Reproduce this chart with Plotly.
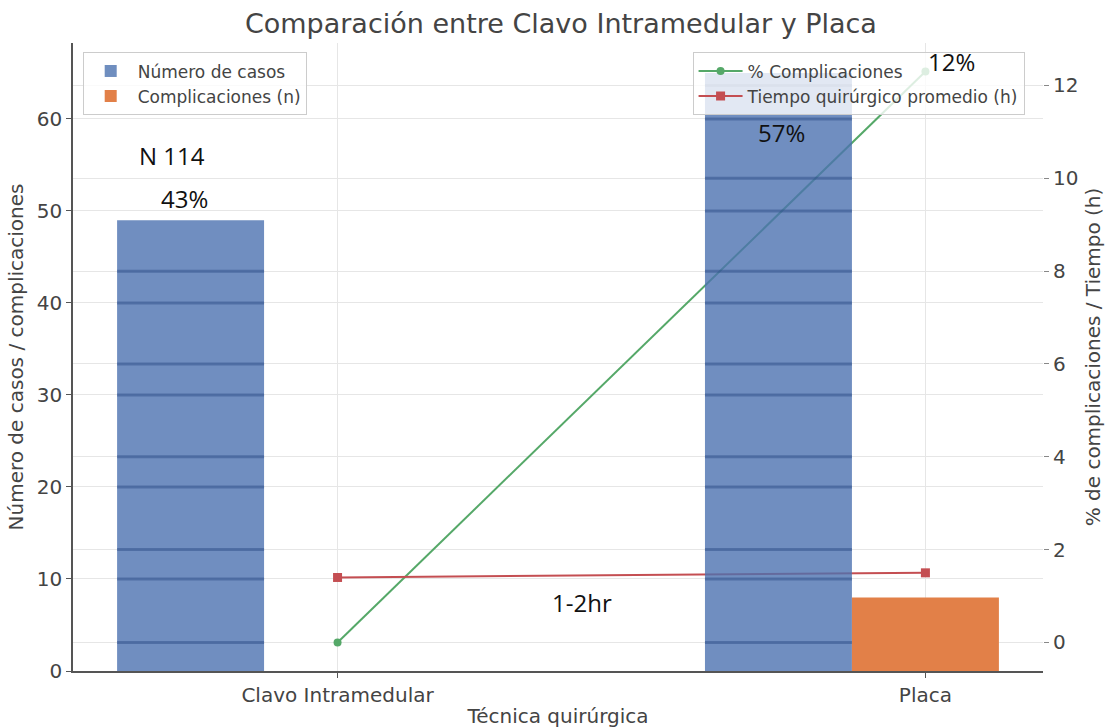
import plotly.graph_objects as go

# Data
categories = ["Clavo Intramedular", "Placa"]
casos = [49, 65]
complicaciones_n = [0, 8]
pct_complicaciones = [0, 12.3]
tiempo_h = [1.4, 1.5]
left_ticks = [0, 10, 20, 30, 40, 50, 60]
right_ticks = [0, 2, 4, 6, 8, 10, 12]

BLUE = "#4c72b0"
ORANGE = "rgb(226,128,72)"
GREEN = "#55a868"
RED = "#c44e52"
FONT = "DejaVu Sans"
TXT = "#444"

xpos = list(range(len(categories)))
bar_w = 0.25

# Axis ranges with 5% padding around the data
left_range = [0, max(casos) * 1.05]
r_vals = pct_complicaciones + tiempo_h
r_lo, r_hi = min(r_vals), max(r_vals)
r_pad = 0.05 * (r_hi - r_lo)
right_range = [r_lo - r_pad, r_hi + r_pad]
x_lo = min(xpos) - bar_w * 1.5 - 0.075
x_hi = max(xpos) + bar_w * 0.5 + 0.075

fig = go.Figure()

# Lines on the right-hand scale (drawn first, underneath the bars)
fig.add_trace(go.Scatter(
    x=xpos, y=pct_complicaciones, name="% Complicaciones",
    mode="lines+markers", yaxis="y", legend="legend2",
    line=dict(color=GREEN, width=2), marker=dict(color=GREEN, size=8, symbol="circle"),
))
fig.add_trace(go.Scatter(
    x=xpos, y=tiempo_h, name="Tiempo quirúrgico promedio (h)",
    mode="lines+markers", yaxis="y", legend="legend2",
    line=dict(color=RED, width=2), marker=dict(color=RED, size=9, symbol="square"),
))

# Bars on the left-hand scale
fig.add_trace(go.Bar(
    x=[p - bar_w for p in xpos], y=casos, width=bar_w, name="Número de casos",
    yaxis="y2", legend="legend", marker=dict(color=BLUE, line=dict(width=0)), opacity=0.8,
))
fig.add_trace(go.Bar(
    x=xpos, y=complicaciones_n, width=bar_w, name="Complicaciones (n)",
    yaxis="y2", legend="legend", marker=dict(color=ORANGE, line=dict(width=0)),
))

# Darker grid bands showing through the case bars
def right_to_left(v):
    f = (v - right_range[0]) / (right_range[1] - right_range[0])
    return left_range[0] + f * (left_range[1] - left_range[0])

band = dict(color="rgba(40,70,130,0.45)", width=3)
shapes = []
for p, h in zip(xpos, casos):
    x0, x1 = p - 1.5 * bar_w, p - 0.5 * bar_w
    for t in left_ticks[1:]:
        if t < h:
            shapes.append(dict(type="line", xref="x", yref="y2", x0=x0, x1=x1, y0=t, y1=t,
                               line=band, layer="above"))
    for t in right_ticks:
        if right_to_left(t) < h:
            shapes.append(dict(type="line", xref="x", yref="y", x0=x0, x1=x1, y0=t, y1=t,
                               line=band, layer="above"))

total = sum(casos)
ann_font = dict(family="Open Sans", size=24, color="#111")
annotations = [
    dict(x=xpos[0] - 0.282, y=56, xref="x", yref="y2", text=f"N {total}", showarrow=False, font=ann_font),
    dict(x=xpos[0] - 0.26, y=51.3, xref="x", yref="y2",
         text=f"{round(100 * casos[0] / total)}%", showarrow=False, font=ann_font),
    dict(x=xpos[1] - 0.245, y=58.5, xref="x", yref="y2",
         text=f"{round(100 * casos[1] / total)}%", showarrow=False, font=ann_font),
    dict(x=xpos[1] + 0.045, y=66.2, xref="x", yref="y2",
         text=f"{round(pct_complicaciones[1])}%", showarrow=False, font=ann_font),
    dict(x=0.416, y=7.4, xref="x", yref="y2", text="1-2hr", showarrow=False, font=ann_font),
]

grid = "rgb(230,230,230)"
fig.update_layout(
    width=1105, height=728,
    margin=dict(l=73, r=62, t=43, b=57),
    paper_bgcolor="white", plot_bgcolor="white",
    barmode="overlay",
    font=dict(family=FONT, color=TXT),
    title=dict(text="Comparación entre Clavo Intramedular y Placa", x=0.503, xref="paper",
               y=0.968, yanchor="middle", font=dict(family=FONT, size=27, color=TXT)),
    xaxis=dict(range=[x_lo, x_hi], tickvals=xpos, ticktext=categories, automargin=False,
               showgrid=True, gridcolor=grid, gridwidth=1, zeroline=False,
               showline=True, linecolor="#555", linewidth=1.5,
               ticks="outside", ticklen=5, tickcolor="#555",
               tickfont=dict(size=20, color=TXT),
               title=dict(text="Técnica quirúrgica", font=dict(size=20, color=TXT), standoff=14)),
    yaxis=dict(range=right_range, side="right", tickvals=right_ticks, automargin=False,
               showgrid=True, gridcolor=grid, gridwidth=1, zeroline=False, showline=False,
               ticks="outside", ticklen=5, tickcolor="#888",
               tickfont=dict(size=20, color=TXT),
               title=dict(text="% de complicaciones / Tiempo (h)", font=dict(size=20, color=TXT), standoff=10)),
    yaxis2=dict(range=left_range, side="left", overlaying="y", anchor="x", tickvals=left_ticks,
                automargin=False,
                showgrid=True, gridcolor=grid, gridwidth=1, zeroline=False,
                showline=True, linecolor="#555", linewidth=1.5,
                ticks="outside", ticklen=5, tickcolor="#555",
                tickfont=dict(size=20, color=TXT),
                title=dict(text="Número de casos / complicaciones", font=dict(size=20, color=TXT), standoff=8)),
    legend=dict(x=0.01, y=0.985, xanchor="left", yanchor="top", itemwidth=44,
                bgcolor="rgba(255,255,255,0.8)", bordercolor="#ccc", borderwidth=1,
                font=dict(size=17, color=TXT), traceorder="normal"),
    legend2=dict(x=0.981, y=0.985, xanchor="right", yanchor="top", itemwidth=44,
                 bgcolor="rgba(255,255,255,0.8)", bordercolor="#ccc", borderwidth=1,
                 font=dict(size=17, color=TXT), traceorder="normal"),
    shapes=shapes,
    annotations=annotations,
)

fig.write_html("out.html")
